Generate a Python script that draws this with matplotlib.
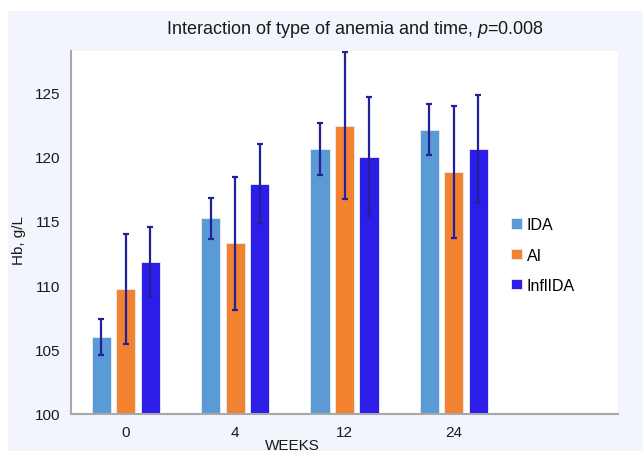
import numpy as np
import matplotlib
matplotlib.use("Agg")
from matplotlib import pyplot as plt
from matplotlib.patches import Rectangle

plt.rcParams['font.family'] = ['Liberation Sans', 'DejaVu Sans']
plt.rcParams['mathtext.fontset'] = 'custom'
plt.rcParams['mathtext.rm'] = 'Liberation Sans'
plt.rcParams['mathtext.it'] = 'Liberation Sans:italic'

semanas = ['0', '4', '12', '24']
grupos = ['IDA', 'AI', 'InflIDA']
media_ida = [106.0, 115.2, 120.6, 122.1]
media_ai = [109.7, 113.25, 122.4, 118.8]
media_infl = [111.8, 117.9, 120.0, 120.6]
erro_ida = [1.4, 1.6, 2.0, 2.0]
erro_ai = [4.3, 5.2, 5.7, 5.1]
erro_infl = [2.7, 3.1, 4.6, 4.2]

cores = ['#5B9BD5', '#F28230', '#2D1DE8']
cor_erro = '#22209A'
fundo = '#F2F5FC'

fig = plt.figure(figsize=(6.43, 4.52), dpi=100)
fig.patch.set_facecolor('white')
fig.patches.append(Rectangle((8 / 643, 0), 1, 1 - 12 / 452, transform=fig.transFigure,
                             facecolor=fundo, edgecolor='none', zorder=-10))

ax = fig.add_axes([71 / 643, 37 / 452, 547 / 643, 363 / 452])
ax.set_facecolor('white')

x = np.arange(len(semanas))
passo = 0.224
largura = 0.175
medias = [media_ida, media_ai, media_infl]
erros = [erro_ida, erro_ai, erro_infl]
for k in range(3):
    ax.bar(x + (k - 1) * passo, medias[k], largura, color=cores[k],
           edgecolor='#E8EEF8', linewidth=0.6, label=grupos[k], zorder=2)
    ax.errorbar(x + (k - 1) * passo, medias[k], yerr=erros[k], fmt='none',
                ecolor=cor_erro, elinewidth=1.6, capsize=2.5, capthick=1.6, zorder=3)

ax.set_xlim(-0.5, 4.5)
ax.set_ylim(100, 128.2)
ax.set_xticks(x)
ax.set_xticklabels(semanas)
ax.set_yticks([100, 105, 110, 115, 120, 125])
ax.tick_params(length=0, labelsize=11, colors='#1a1a1a', pad=8)
for s in ['top', 'right']:
    ax.spines[s].set_visible(False)
for s in ['left', 'bottom']:
    ax.spines[s].set_color('#A8A8A8')
    ax.spines[s].set_linewidth(1.5)

ax.set_ylabel('Hb, g/L', fontsize=11, color='#1a1a1a')
ax.yaxis.set_label_coords(-0.082, 0.48)
fig.text(292 / 643, 1 - 439 / 452, 'WEEKS', ha='center', va='top', fontsize=11, color='#1a1a1a')

fig.text(355 / 643, 1 - 30 / 452, r'Interaction of type of anemia and time, $p$=0.008',
         ha='center', va='center', fontsize=13, color='#1a1a1a')

leg = ax.legend(loc='upper left', bbox_to_anchor=(434 / 547, 1 - 160 / 363), frameon=False,
                fontsize=11.5, handlelength=0.65, handleheight=0.65, handletextpad=0.3,
                labelspacing=0.95, borderaxespad=0)

fig.savefig('out.png', dpi=100, facecolor=fig.get_facecolor())
